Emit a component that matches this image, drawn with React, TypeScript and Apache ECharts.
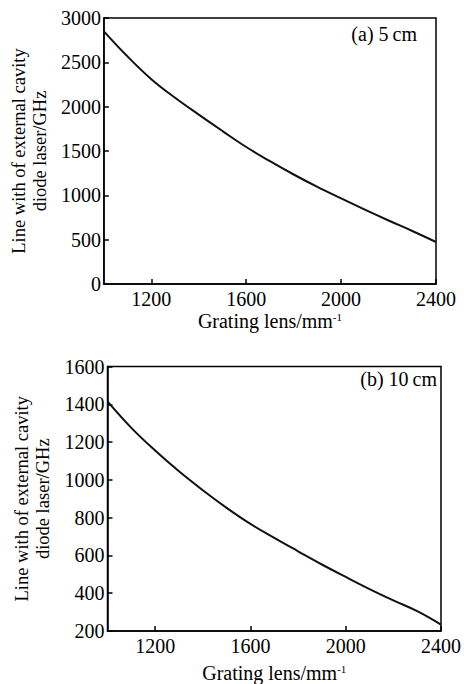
import React, { useEffect, useRef } from "react";
import * as echarts from "echarts";

// Grating line density (lines/mm)
const gratingLines = [1000, 1100, 1200, 1300, 1400, 1500, 1600, 1700, 1800, 1900, 2000, 2100, 2200, 2300, 2400];
// (a) 5 cm external cavity, linewidth in GHz
const linewidth5cm = [2850, 2565, 2310, 2100, 1910, 1725, 1545, 1385, 1235, 1095, 965, 838, 716, 598, 474];
// (b) 10 cm external cavity, linewidth in GHz
const linewidth10cm = [1415, 1275, 1155, 1045, 945, 852, 767, 693, 622, 552, 486, 422, 362, 305, 234];

const xTickValues = [1200, 1600, 2000, 2400];
const yTitle = "Line with of external cavity\ndiode laser/GHz";
const xTitle = "Grating lens/mm{sup|-1}";
const panelLabels = ["(a) 5\u2009cm", "(b) 10\u2009cm"];

export default function App() {
  const ref = useRef<HTMLDivElement>(null);
  useEffect(() => {
    document.body.style.margin = "0";
    const chart = echarts.init(ref.current!, null, { renderer: "svg" });
    const font = "'Liberation Serif', 'DejaVu Serif', serif";
    const black = "#000";
    const axisLine = { show: true, onZero: false, lineStyle: { color: black, width: 1.5 } };
    const tickStyle = { color: black, width: 1.5 };

    const makeX = (gridIndex: number, nameGap: number) => ({
      type: "value",
      gridIndex,
      min: 1000,
      max: 2400,
      axisLine,
      axisTick: { show: true, inside: true, length: 5, customValues: xTickValues, lineStyle: tickStyle },
      axisLabel: {
        customValues: xTickValues,
        color: black,
        fontFamily: font,
        fontSize: 20,
        margin: 5,
        formatter: (v: number) => String(v),
      },
      splitLine: { show: false },
      name: xTitle,
      nameLocation: "middle",
      nameGap,
      nameTextStyle: {
        color: black,
        fontFamily: font,
        fontSize: 20,
        rich: {
          sup: { fontSize: 11, fontFamily: font, color: black, verticalAlign: "top", lineHeight: 10 },
        },
      },
    });

    const makeY = (gridIndex: number, min: number, max: number, interval: number, nameGap: number) => ({
      type: "value",
      gridIndex,
      min,
      max,
      interval,
      axisLine,
      axisTick: { show: true, inside: true, length: 5, lineStyle: tickStyle },
      axisLabel: {
        color: black,
        fontFamily: font,
        fontSize: 20,
        margin: 3,
        formatter: (v: number) => String(v),
      },
      splitLine: { show: false },
      name: yTitle,
      nameLocation: "middle",
      nameGap,
      nameTextStyle: { color: black, fontFamily: font, fontSize: 18.5, lineHeight: 21 },
    });

    const lineSeries = (idx: number, values: number[]) => ({
      type: "line",
      xAxisIndex: idx,
      yAxisIndex: idx,
      data: gratingLines.map((x, i) => [x, values[i]]),
      showSymbol: false,
      smooth: 0.4,
      lineStyle: { color: "#111", width: 2 },
    });

    chart.setOption({
      animation: false,
      backgroundColor: "#fff",
      grid: [
        { left: 98, top: 18, width: 338, height: 266, show: true, borderColor: black, borderWidth: 1.5 },
        { left: 107.5, top: 366.5, width: 337, height: 266, show: true, borderColor: black, borderWidth: 1.5 },
      ],
      xAxis: [makeX(0, 27), makeX(1, 32)],
      yAxis: [makeY(0, 0, 3000, 500, 44), makeY(1, 200, 1600, 200, 48)],
      series: [lineSeries(0, linewidth5cm), lineSeries(1, linewidth10cm)],
      graphic: [
        {
          type: "text",
          x: 417,
          y: 34,
          style: { text: panelLabels[0], align: "right", verticalAlign: "middle", fontFamily: font, fontSize: 20, fill: black },
        },
        {
          type: "text",
          x: 437,
          y: 379,
          style: { text: panelLabels[1], align: "right", verticalAlign: "middle", fontFamily: font, fontSize: 20, fill: black },
        },
      ],
    });
    return () => chart.dispose();
  }, []);
  return <div ref={ref} style={{ width: 464, height: 684 }} />;
}
